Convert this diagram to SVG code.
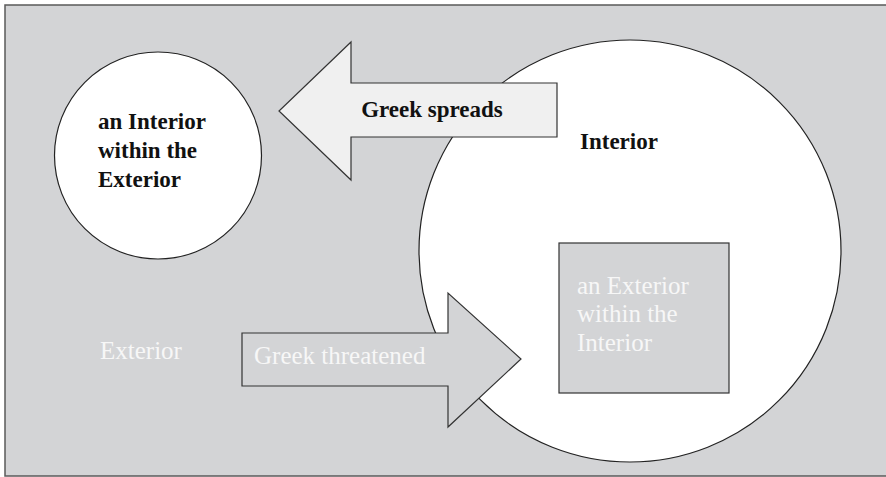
<svg xmlns="http://www.w3.org/2000/svg" width="886" height="477" viewBox="0 0 886 477">
<style>
.bg{fill:#d3d4d6;stroke:#5a5a5a;stroke-width:1.5}
.white{fill:#ffffff;stroke:#222;stroke-width:1.2}
.grey{fill:#d3d4d6;stroke:#333;stroke-width:1.2}
.light{fill:#f0f0f0;stroke:#333;stroke-width:1.2}
.tb{font-family:"Liberation Serif","Times New Roman",serif;font-weight:bold;font-size:23px;fill:#111}
.tw{font-family:"Liberation Serif","Times New Roman",serif;font-size:25px;fill:#f7f7f7}
</style>
<rect class="bg" x="5" y="5" width="900" height="471"/>
<g id="interior">
<circle class="white" cx="630" cy="251" r="211"/>
<text class="tb" x="580" y="149">Interior</text>
</g>
<g id="interior-within-exterior">
<circle class="white" cx="158" cy="155.5" r="103.5"/>
<text class="tb" x="98" y="129">an Interior</text>
<text class="tb" x="98" y="158">within the</text>
<text class="tb" x="98" y="187">Exterior</text>
</g>
<g id="exterior-within-interior">
<rect class="grey" x="559" y="243" width="170" height="150"/>
<text class="tw" x="577" y="294">an Exterior</text>
<text class="tw" x="577" y="322">within the</text>
<text class="tw" x="577" y="351">Interior</text>
</g>
<g id="exterior">
<text class="tw" x="100" y="359">Exterior</text>
</g>
<g id="connectors">
<g id="greek-spreads">
<polygon class="light" points="557,83 351,83 351,42 279,111 351,180 351,137 557,137"/>
<text class="tb" x="432" y="117" text-anchor="middle">Greek spreads</text>
</g>
<g id="greek-threatened">
<polygon class="grey" points="242,333 448,333 448,293 521,359 448,427 448,386 242,386"/>
<text class="tw" x="254" y="364">Greek threatened</text>
</g>
</g>
</svg>
